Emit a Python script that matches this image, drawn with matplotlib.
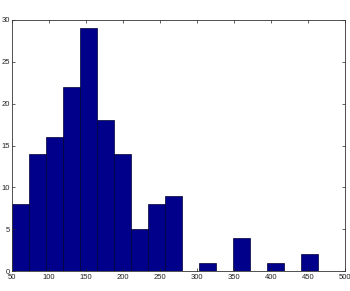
import numpy as np
import matplotlib
matplotlib.use("Agg")
import matplotlib.pyplot as plt

bin_start = 50
bin_end = 463
counts = [8, 14, 16, 22, 29, 18, 14, 5, 8, 9, 0, 1, 0, 4, 0, 1, 0, 2]
xticks = [50, 100, 150, 200, 250, 300, 350, 400, 450, 500]
yticks = [0, 5, 10, 15, 20, 25, 30]

edges = np.linspace(bin_start, bin_end, len(counts) + 1)

fig = plt.figure(figsize=(3.5, 2.91), dpi=100)
ax = fig.add_axes([12/350, 1 - 271/291, 333/350, 251/291])
ax.hist(edges[:-1], bins=edges, weights=counts, color="#00008a",
        edgecolor="#000030", linewidth=0.5)
ax.set_xlim(50, 500)
ax.set_ylim(0, 30)
ax.set_xticks(xticks)
ax.set_yticks(yticks)
ax.tick_params(direction="in", top=True, right=True, labelsize=5.5,
               length=2.5, width=0.5, colors="#222222")
ax.tick_params(axis="x", pad=2.5)
ax.tick_params(axis="y", pad=1.5)
for s in ax.spines.values():
    s.set_linewidth(0.6)
    s.set_color("#333333")
for lbl in ax.get_xticklabels() + ax.get_yticklabels():
    lbl.set_fontfamily("Liberation Sans")
fig.savefig("out.png", dpi=100)
